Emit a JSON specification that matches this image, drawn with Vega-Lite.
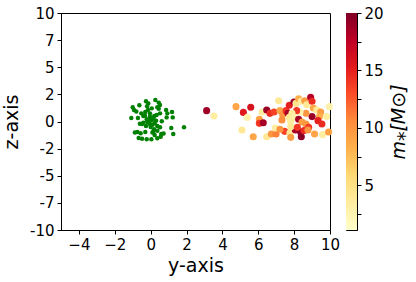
{
  "$schema": "https://vega.github.io/schema/vega-lite/v6.json",
  "autosize": {"type": "pad"},
  "padding": {"left": 2, "top": 5, "right": 0, "bottom": 0},
  "background": "white",
  "spacing": 16,
  "bounds": "flush",
  "config": {
    "font": "DejaVu Sans",
    "view": {"stroke": "black", "strokeWidth": 1},
    "axis": {
      "grid": false,
      "domainColor": "black",
      "tickColor": "black",
      "tickSize": 4,
      "labelPadding": 3,
      "labelFontSize": 15,
      "labelColor": "black",
      "labelFont": "DejaVu Sans",
      "titleFont": "DejaVu Sans",
      "titleFontSize": 19,
      "titleFontWeight": "normal",
      "titleColor": "black",
      "labelFlush": false,
      "labelOverlap": false
    }
  },
  "datasets": {
    "center": [{"y": 0.0, "z": 0.26}],
    "disk": [
      {"y": -1.00, "z": 1.31}, {"y": -0.93, "z": 1.06}, {"y": -0.63, "z": 1.49}, {"y": -0.26, "z": 1.86},
      {"y": -0.13, "z": 1.67}, {"y": 0.26, "z": 1.98}, {"y": 0.45, "z": 1.74}, {"y": 0.37, "z": 1.31},
      {"y": 0.06, "z": 1.21}, {"y": -0.15, "z": 1.06}, {"y": -0.52, "z": 0.75}, {"y": -1.08, "z": 0.32},
      {"y": -0.71, "z": 0.32}, {"y": -0.41, "z": 0.51}, {"y": -0.22, "z": 0.20}, {"y": -0.04, "z": 0.45},
      {"y": 0.15, "z": 0.29}, {"y": 0.33, "z": 0.60}, {"y": 0.52, "z": 0.75}, {"y": 0.86, "z": 1.06},
      {"y": 0.93, "z": 0.75}, {"y": 1.19, "z": 0.88}, {"y": 1.23, "z": 0.38}, {"y": 0.89, "z": 0.38},
      {"y": -0.48, "z": -0.23}, {"y": -0.26, "z": -0.41}, {"y": -0.04, "z": -0.23}, {"y": 0.22, "z": -0.17},
      {"y": 0.37, "z": -0.41}, {"y": 0.52, "z": -0.54}, {"y": 1.15, "z": -0.60}, {"y": 1.86, "z": -0.54},
      {"y": 1.26, "z": -1.15}, {"y": -0.74, "z": -0.97}, {"y": -0.56, "z": -1.09}, {"y": -0.30, "z": -0.97},
      {"y": -0.67, "z": -1.52}, {"y": -0.48, "z": -1.58}, {"y": -0.22, "z": -1.64}, {"y": 0.04, "z": -1.64},
      {"y": 0.22, "z": -1.24}, {"y": 0.37, "z": -1.55}, {"y": 0.56, "z": -1.40}, {"y": 0.59, "z": -1.15},
      {"y": 0.15, "z": -0.91}, {"y": -0.19, "z": -0.05}, {"y": 0.07, "z": 0.14}, {"y": 0.30, "z": 0.08},
      {"y": -0.04, "z": 0.75}, {"y": -0.30, "z": 0.88}, {"y": 0.45, "z": 1.18}, {"y": -0.41, "z": -0.11},
      {"y": 0.19, "z": -0.72}, {"y": 0.37, "z": -0.85}, {"y": -0.10, "z": 0.02}, {"y": 0.10, "z": -0.30},
      {"y": 0.00, "z": 0.32}, {"y": -0.32, "z": 0.52}, {"y": 0.20, "z": 0.50}, {"y": 0.00, "z": -0.50},
      {"y": -0.60, "z": -0.20}, {"y": 0.62, "z": 0.02}, {"y": 0.10, "z": -1.02}, {"y": -0.88, "z": -1.02},
      {"y": 0.72, "z": -1.10}, {"y": -0.20, "z": 1.40}, {"y": 0.52, "z": 1.52}, {"y": -0.80, "z": 0.92}
    ],
    "stars": [
      {"y": 3.12, "z": 1.00, "m": 18.8}, {"y": 3.53, "z": 0.51, "m": 3.5}, {"y": 4.76, "z": 1.37, "m": 9.0},
      {"y": 5.17, "z": 0.84, "m": 15.5}, {"y": 5.58, "z": 1.31, "m": 16.0}, {"y": 5.39, "z": 0.38, "m": 3.0},
      {"y": 6.06, "z": 0.20, "m": 9.5}, {"y": 6.06, "z": -0.17, "m": 14.0}, {"y": 6.28, "z": -0.11, "m": 18.5},
      {"y": 6.21, "z": 0.88, "m": 3.5}, {"y": 6.47, "z": 1.06, "m": 19.0}, {"y": 6.65, "z": 0.75, "m": 14.5},
      {"y": 6.88, "z": 0.88, "m": 13.5}, {"y": 7.14, "z": 1.92, "m": 4.0}, {"y": 7.21, "z": 1.00, "m": 9.0},
      {"y": 7.36, "z": 0.63, "m": 10.0}, {"y": 7.55, "z": 1.00, "m": 14.0}, {"y": 7.66, "z": 0.75, "m": 18.5},
      {"y": 7.73, "z": 1.49, "m": 15.0}, {"y": 7.99, "z": 1.80, "m": 19.0}, {"y": 8.10, "z": 1.67, "m": 4.5},
      {"y": 8.25, "z": 2.10, "m": 8.5}, {"y": 8.40, "z": 1.86, "m": 3.5}, {"y": 8.59, "z": 1.92, "m": 9.5},
      {"y": 8.70, "z": 1.55, "m": 4.0}, {"y": 8.92, "z": 2.23, "m": 18.0}, {"y": 9.00, "z": 1.86, "m": 14.5},
      {"y": 9.07, "z": 1.24, "m": 9.0}, {"y": 9.26, "z": 1.06, "m": 4.0}, {"y": 9.48, "z": 0.88, "m": 9.5},
      {"y": 9.41, "z": 0.45, "m": 8.5}, {"y": 9.00, "z": 0.45, "m": 19.0}, {"y": 8.66, "z": 0.75, "m": 10.0},
      {"y": 8.33, "z": 0.88, "m": 3.0}, {"y": 8.14, "z": 1.00, "m": 14.0}, {"y": 7.88, "z": 0.75, "m": 3.5},
      {"y": 7.73, "z": 0.38, "m": 4.0}, {"y": 7.99, "z": 0.38, "m": 3.0}, {"y": 7.32, "z": 0.14, "m": 10.5},
      {"y": 7.81, "z": 0.02, "m": 3.5}, {"y": 8.25, "z": 0.20, "m": 18.5}, {"y": 8.44, "z": -0.05, "m": 9.5},
      {"y": 8.66, "z": -0.23, "m": 10.0}, {"y": 8.81, "z": -0.54, "m": 14.0}, {"y": 9.33, "z": 0.08, "m": 15.0},
      {"y": 9.55, "z": -0.23, "m": 14.5}, {"y": 9.81, "z": 0.45, "m": 3.5}, {"y": 9.96, "z": 1.37, "m": 3.0},
      {"y": 5.09, "z": -0.78, "m": 4.0}, {"y": 5.72, "z": -1.40, "m": 9.0}, {"y": 6.47, "z": -1.40, "m": 4.0},
      {"y": 6.73, "z": -1.15, "m": 10.0}, {"y": 6.99, "z": -1.15, "m": 11.0}, {"y": 6.95, "z": -0.60, "m": 3.5},
      {"y": 7.47, "z": -0.91, "m": 13.5}, {"y": 7.77, "z": -1.03, "m": 4.0}, {"y": 7.81, "z": -1.46, "m": 9.5},
      {"y": 8.07, "z": -0.78, "m": 18.5}, {"y": 8.36, "z": -0.97, "m": 19.0}, {"y": 8.40, "z": -1.40, "m": 19.5},
      {"y": 8.55, "z": -0.84, "m": 14.5}, {"y": 8.77, "z": -0.78, "m": 10.0}, {"y": 9.14, "z": -1.15, "m": 9.0},
      {"y": 9.59, "z": -1.21, "m": 3.5}, {"y": 9.92, "z": -0.97, "m": 9.5}, {"y": 7.81, "z": -0.48, "m": 4.0},
      {"y": 8.18, "z": -0.54, "m": 14.0}, {"y": 7.21, "z": -0.72, "m": 10.0}
    ],
    "colorbar": [{"lo": 1.13, "hi": 20}]
  },
  "hconcat": [
    {
      "width": 269,
      "height": 217,
      "encoding": {
        "x": {"field": "y", "type": "quantitative", "scale": {"domain": [-5, 10], "nice": false, "zero": false},
          "axis": {"values": [-4, -2, 0, 2, 4, 6, 8, 10], "title": "y-axis", "titlePadding": 4}},
        "y": {"field": "z", "type": "quantitative", "scale": {"domain": [-10, 10], "nice": false, "zero": false},
          "axis": {"values": [-10, -7.5, -5, -2.5, 0, 2.5, 5, 7.5, 10], "title": "z-axis", "titlePadding": 8,
            "labelExpr": "'' + (datum.value < 0 ? ceil(datum.value) : floor(datum.value))"}}
      },
      "layer": [
        {
          "data": {"name": "center"},
          "mark": {"type": "circle", "color": "#0000ff", "opacity": 1, "size": 20}
        },
        {
          "data": {"name": "disk"},
          "mark": {"type": "circle", "color": "#008000", "opacity": 1, "size": 20}
        },
        {
          "data": {"name": "stars"},
          "mark": {"type": "circle", "opacity": 1, "size": 50},
          "encoding": {
            "color": {
              "field": "m", "type": "quantitative",
              "scale": {
                "type": "linear",
                "domain": [1.13, 3.489, 5.848, 8.206, 10.565, 12.924, 15.283, 17.641, 20],
                "range": ["#ffffcc", "#ffeda0", "#fed976", "#feb24c", "#fd8d3c", "#fc4e2a", "#e31a1c", "#bd0026", "#800026"],
                "interpolate": "rgb",
                "nice": false, "zero": false
              },
              "legend": null
            }
          }
        }
      ]
    },
    {
      "width": 11,
      "height": 217,
      "data": {"name": "colorbar"},
      "mark": {
        "type": "rect",
        "color": {
          "gradient": "linear", "x1": 0, "y1": 1, "x2": 0, "y2": 0,
          "stops": [
            {"offset": 0, "color": "#ffffcc"}, {"offset": 0.125, "color": "#ffeda0"},
            {"offset": 0.25, "color": "#fed976"}, {"offset": 0.375, "color": "#feb24c"},
            {"offset": 0.5, "color": "#fd8d3c"}, {"offset": 0.625, "color": "#fc4e2a"},
            {"offset": 0.75, "color": "#e31a1c"}, {"offset": 0.875, "color": "#bd0026"},
            {"offset": 1, "color": "#800026"}
          ]
        }
      },
      "encoding": {
        "y": {"field": "lo", "type": "quantitative",
          "scale": {"domain": [1.13, 20], "nice": false, "zero": false},
          "axis": {"orient": "right", "values": [2.5, 5, 7.5, 10, 12.5, 15, 17.5, 20],
            "labelExpr": "datum.value % 5 == 0 ? datum.label : ''",
            "title": "m⁎[M⊙]", "titleAngle": 270, "titleFontStyle": "italic", "titlePadding": 6,
            "titleBaseline": "top"}},
        "y2": {"field": "hi"}
      }
    }
  ]
}
